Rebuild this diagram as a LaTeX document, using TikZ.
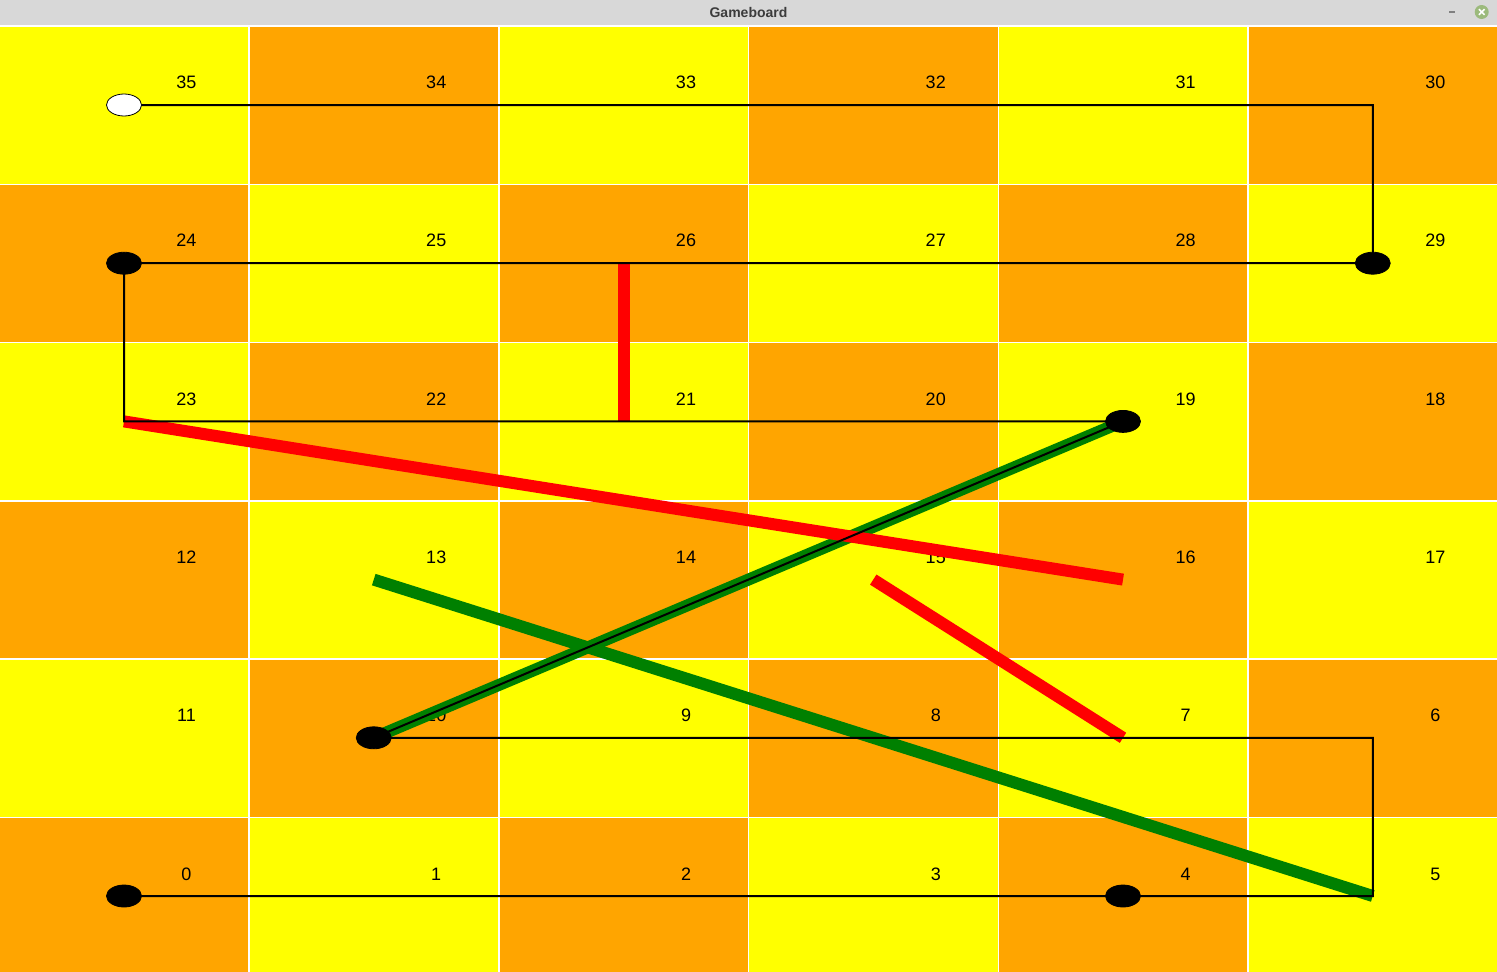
\documentclass[tikz,border=0pt]{standalone}
\usepackage{fontspec}
\setmainfont{Liberation Sans}
\usetikzlibrary{shapes.geometric}
\definecolor{cellyellow}{HTML}{FFFF00}
\definecolor{cellorange}{HTML}{FFA500}
\definecolor{titlegray}{HTML}{D8D8D8}
\definecolor{titletext}{HTML}{3C3C3C}
\definecolor{closegreen}{HTML}{9CBA7C}
\definecolor{mingray}{HTML}{808080}
\definecolor{laddergreen}{HTML}{008000}
\definecolor{snakered}{HTML}{FF0000}
\begin{document}
\begin{tikzpicture}[x=1pt,y=-1pt,
  cellnum/.style={font=\fontsize{18}{20}\selectfont, inner sep=0pt, text=black},
  token/.style={ellipse, draw=black, line width=0.8pt, fill=black, minimum width=35pt, minimum height=22pt, inner sep=0pt},
  whitetoken/.style={token, fill=white},
  ladderline/.style={draw=laddergreen, line width=12pt, line cap=butt},
  snakeline/.style={draw=snakered, line width=12pt, line cap=butt},
  moveline/.style={draw=black, line width=2pt},
  titlefont/.style={font=\fontsize{14}{16}\selectfont\bfseries, text=titletext, inner sep=0pt}
]
\useasboundingbox (0,0) rectangle (1497,972);
\fill[white] (0,0) rectangle (1497,972);
% title bar
\fill[titlegray] (0,0) rectangle (1497,25.3);
\node[titlefont] (title) at (748.5,12.5) {Gameboard};
\draw[mingray, line width=2pt] (1449,12) -- (1455,12);
\node[circle, fill=closegreen, minimum size=14pt, inner sep=0pt] (close) at (1481.7,12) {};
\draw[white, line width=1.6pt] ([shift={(-2.8,-2.8)}]close.center) -- ([shift={(2.8,2.8)}]close.center);
\draw[white, line width=1.6pt] ([shift={(-2.8,2.8)}]close.center) -- ([shift={(2.8,-2.8)}]close.center);
% cells
\foreach \j in {0,...,5} {
  \foreach \c in {0,...,5} {
    \pgfmathsetmacro\xl{249.75*\c}
    \pgfmathsetmacro\xr{\c==5 ? 1497 : 249.75*\c+248.4}
    \pgfmathsetmacro\yt{26.7+158.3*\j}
    \pgfmathsetmacro\yb{\j==5 ? 972 : 26.7+158.3*\j+156.8}
    \pgfmathtruncatemacro\parity{mod(\c+\j,2)}
    \ifnum\parity=0 \def\cellcol{cellyellow}\else\def\cellcol{cellorange}\fi
    \pgfmathtruncatemacro\rr{5-\j}
    \pgfmathtruncatemacro\num{mod(\rr,2)==0 ? 6*\rr+\c : 6*\rr+5-\c}
    \fill[\cellcol] (\xl,\yt) rectangle (\xr,\yb);
    \coordinate (p\num) at ({124+249.75*\c},{105+158.2*\j});
    \node[cellnum] (n\num) at ({186.5+249.75*\c},{82+158.4*\j}) {\num};
  }
}
% ladders
\draw[ladderline] (p13) -- (p5);
\draw[ladderline] (p10) -- (p19);
% snakes
\draw[snakeline] (p26) -- (p21);
\draw[snakeline] (p23) -- (p16);
\draw[snakeline] (p15) -- (p7);
% movement path
\draw[moveline] (p0) -- (p5) -- (p6) -- (p10) -- (p19) -- (p23) -- (p24) -- (p29) -- (p30) -- (p35);
% tokens
\node[token] (t0) at (p0) {};
\node[token] (t4) at (p4) {};
\node[token] (t10) at (p10) {};
\node[token] (t19) at (p19) {};
\node[token] (t24) at (p24) {};
\node[token] (t29) at (p29) {};
\node[whitetoken] (t35) at (p35) {};
\end{tikzpicture}
\end{document}
